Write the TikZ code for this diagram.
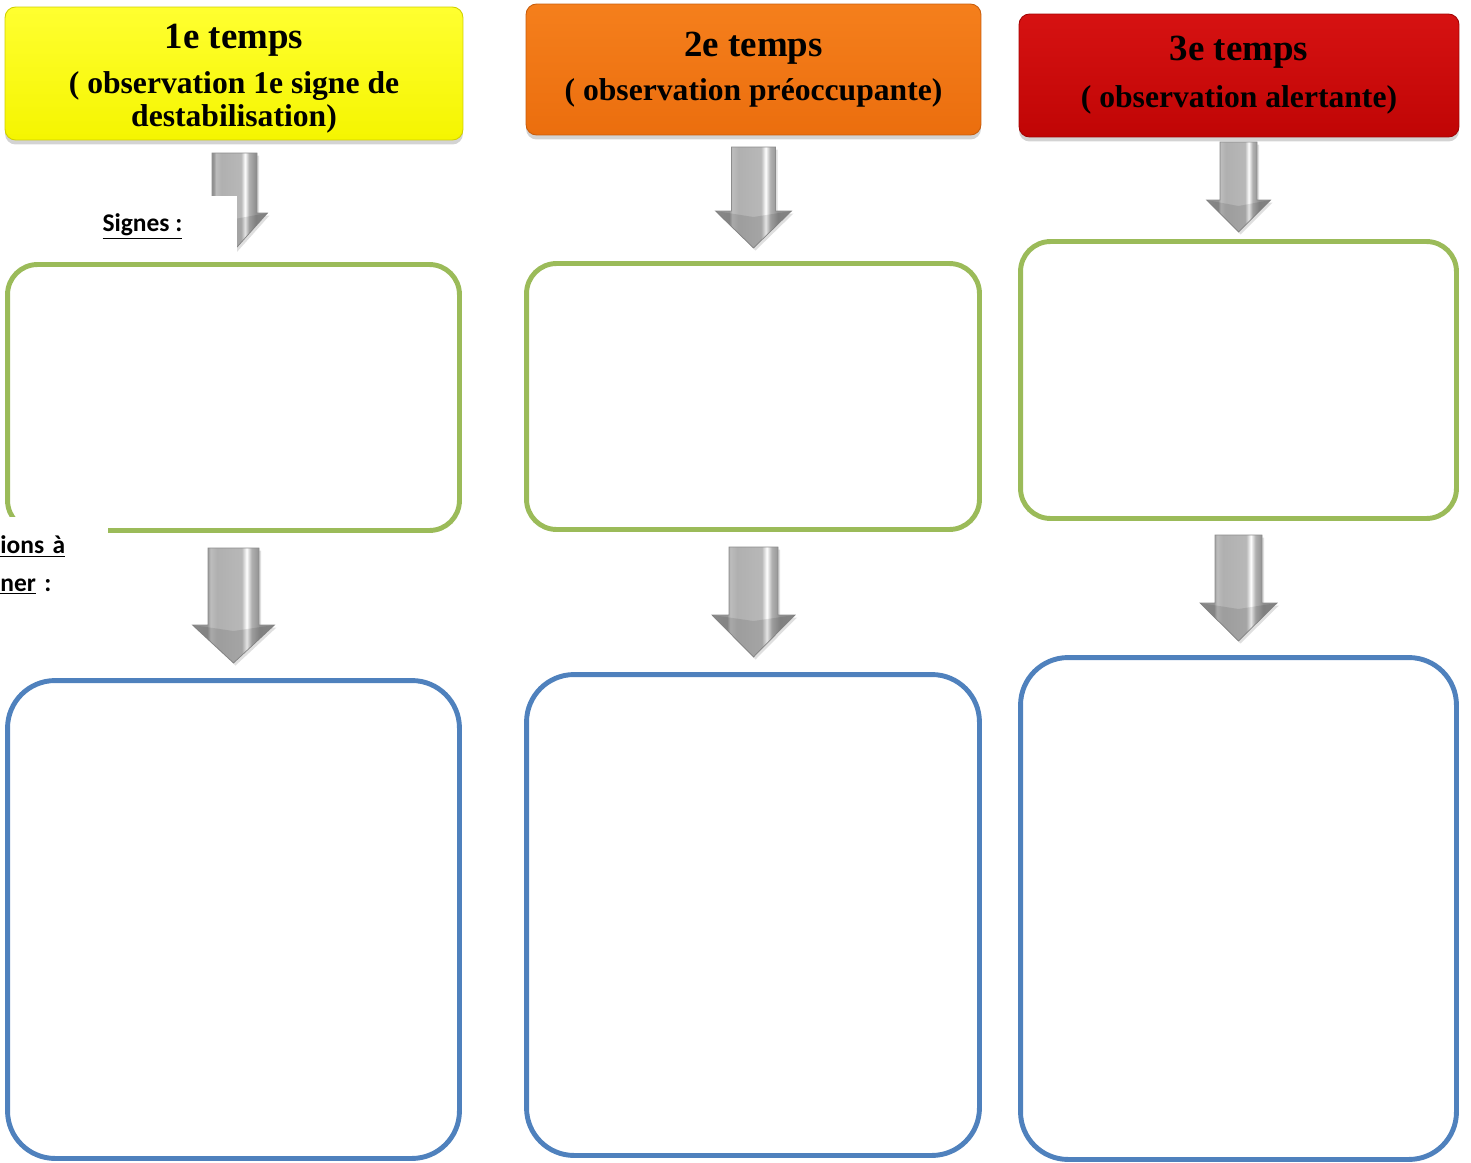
\documentclass[tikz,border=0pt]{standalone}
\usepackage{fontspec}
\setmainfont{Liberation Serif}
\newfontfamily\calfont{Carlito}
\usetikzlibrary{positioning, shadows}

\definecolor{ylwtop}{HTML}{FFFF30}
\definecolor{ylwbot}{HTML}{F5F500}
\definecolor{orgtop}{HTML}{F57F1C}
\definecolor{orgbot}{HTML}{EB6E0E}
\definecolor{redtop}{HTML}{D61212}
\definecolor{redbot}{HTML}{C00505}
\definecolor{sgreen}{HTML}{9BBB59}
\definecolor{ablue}{HTML}{4F81BD}

\pgfdeclarehorizontalshading{arrowshade}{100bp}{color(0bp)=(gray!80); color(25bp)=(gray!80);
  color(34bp)=(gray!85); color(36bp)=(gray!52); color(40bp)=(gray!62); color(55bp)=(gray!56);
  color(58bp)=(white); color(61bp)=(gray!62); color(66bp)=(gray!88); color(75bp)=(gray!85);
  color(100bp)=(gray!85)}

\newcommand{\ttl}[1]{{\fontsize{21}{21}\selectfont #1}}

\tikzset{
  hdr/.style    = {rounded corners=6pt, align=center, inner sep=0pt,
                   font=\bfseries\fontsize{18}{18.7}\selectfont,
                   drop shadow={opacity=0.35, shadow xshift=0pt, shadow yshift=-0.09cm}},
  sigbox/.style = {draw=sgreen, line width=2.8pt, rounded corners=0.6cm},
  actbox/.style = {draw=ablue, line width=2.8pt, rounded corners=0.95cm},
  note/.style   = {fill=white, inner xsep=0pt, font=\calfont\bfseries\fontsize{14.5}{21.5}\selectfont},
  pics/dnarrow/.style n args={4}{code={
    \path[shading=arrowshade, draw=gray!90, line width=0.4pt,
          drop shadow={opacity=0.25, shadow xshift=0.04cm, shadow yshift=-0.05cm}]
      (-#1,0) -- (#1,0) -- (#1,{#3-#4}) -- (#2,{#3-#4}) -- (0,#3)
      -- (-#2,{#3-#4}) -- (-#1,{#3-#4}) -- cycle;
    \fill[black, opacity=0.1] (#2,{#3-#4}) -- (0,#3) -- (-#2,{#3-#4}) -- (0,{#3-#4+6}) -- cycle;
  }},
}

\begin{document}
\begin{tikzpicture}[x=0.02cm, y=-0.02cm]
  \useasboundingbox (0,0) rectangle (1471,1163);

  % three stages
  \node[hdr, top color=ylwtop, bottom color=ylwbot, draw=ylwbot!85!black, line width=0.5pt,
        minimum width=9.16cm, minimum height=2.66cm] (h1) at (234,73.5)
        {\ttl{\rule{0pt}{20pt}1e temps}\\[7pt]( observation 1e signe de\\destabilisation)};
  \node[hdr, top color=orgtop, bottom color=orgbot, draw=orgbot!85!black, line width=0.5pt,
        minimum width=9.10cm, minimum height=2.62cm] (h2) at (753.5,69.5)
        {\ttl{2e temps}\\[6pt]( observation préoccupante)};
  \node[hdr, top color=redtop, bottom color=redbot, draw=redbot!85!black, line width=0.5pt,
        minimum width=8.80cm, minimum height=2.46cm] (h3) at (1239,75.5)
        {\ttl{3e temps}\\[8pt]( observation alertante)};

  % arrows to the boxes
  \pic (a11) at (234.5,153) {dnarrow={22.5}{33}{97}{37}};
  \pic (a21) at (753.5,147) {dnarrow={22}{38}{101}{37}};
  \pic (a31) at (1238.5,142) {dnarrow={18.5}{32}{90}{32}};
  \pic (a12) at (233.5,548) {dnarrow={25.5}{41}{115}{38}};
  \pic (a22) at (753.5,547) {dnarrow={24.5}{41.5}{110}{42}};
  \pic (a32) at (1238.5,535) {dnarrow={23.5}{38.5}{106}{38}};

  % signs boxes
  \node[sigbox, minimum width=9.04cm, minimum height=5.32cm] (g1) at (233.5,397.5) {};
  \node[sigbox, minimum width=9.06cm, minimum height=5.32cm] (g2) at (753,396.5) {};
  \node[sigbox, minimum width=8.72cm, minimum height=5.54cm] (g3) at (1238.5,380) {};

  % action boxes
  \node[actbox, minimum width=9.04cm, minimum height=9.56cm] (b1) at (233.5,919.5) {};
  \node[actbox, minimum width=9.06cm, minimum height=9.62cm] (b2) at (753,915) {};
  \node[actbox, minimum width=8.72cm, minimum height=10.04cm] (b3) at (1238.5,908.5) {};

  % labels
  \node[note, minimum width=3.78cm, minimum height=1.22cm] (sgn) at (142.5,226.5)
        {\underline{Signes :}};
  \node[note, anchor=north west, text width=2.16cm, align=left, inner ysep=0.36cm] (act) at (0,517)
        {\underline{ions à}\\\underline{ner} :};
\end{tikzpicture}
\end{document}
